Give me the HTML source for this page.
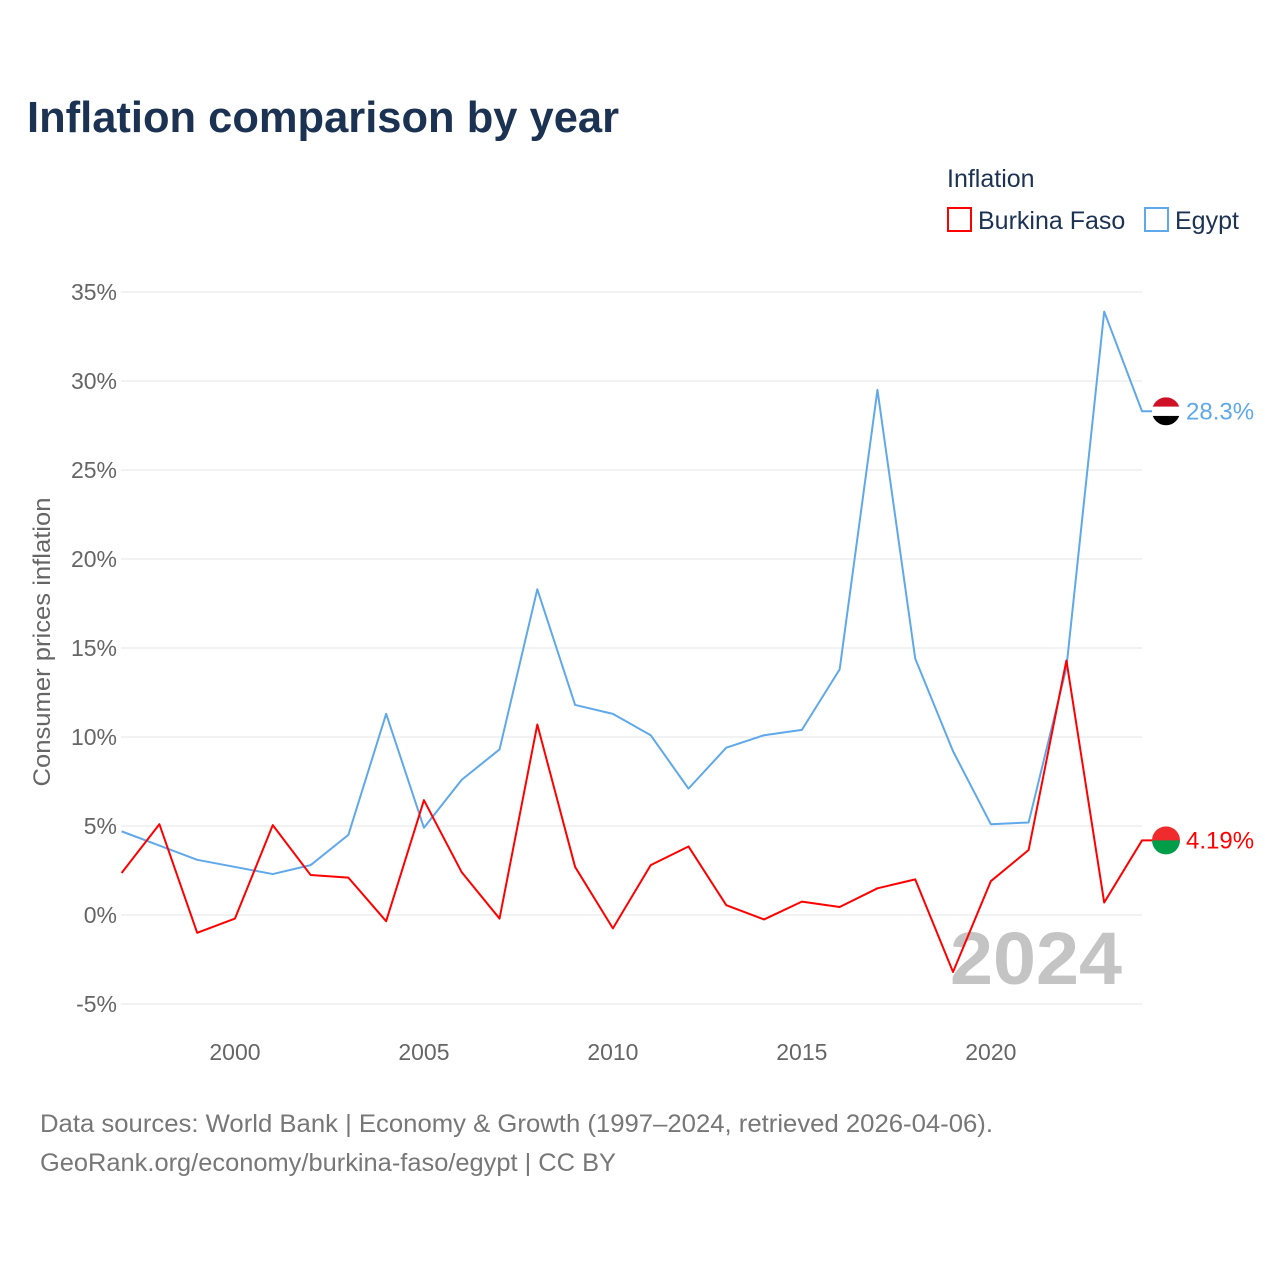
<!DOCTYPE html>
<html><head><meta charset="utf-8"><style>
body{margin:0;background:#fff;font-family:"Liberation Sans",sans-serif;}
svg text{font-family:"Liberation Sans",sans-serif;}
</style></head><body>
<svg id="chart" width="1280" height="1280" xmlns="http://www.w3.org/2000/svg">
<text x="27" y="132" font-size="44" font-weight="bold" fill="#1b3252" textLength="592" lengthAdjust="spacingAndGlyphs">Inflation comparison by year</text>
<text x="947" y="187" font-size="25" fill="#1b3252">Inflation</text>
<g><rect x="948" y="208" width="23" height="23" fill="none" stroke="#f00" stroke-width="2"/><text x="978" y="229" font-size="25" fill="#1b3252">Burkina Faso</text></g>
<g><rect x="1145" y="208" width="23" height="23" fill="none" stroke="#5fa8ea" stroke-width="2"/><text x="1175" y="229" font-size="25" fill="#1b3252">Egypt</text></g>
<g id="grid"></g><g id="yticks"></g><g id="xticks"></g>
<text transform="translate(50,642) rotate(-90)" text-anchor="middle" font-size="24" fill="#666" textLength="289" lengthAdjust="spacingAndGlyphs">Consumer prices inflation</text>
<text x="950" y="984" font-size="74" font-weight="bold" fill="#c4c4c4" textLength="172" lengthAdjust="spacingAndGlyphs">2024</text>
<g id="series"></g>
<text x="40" y="1132" font-size="25" fill="#777" textLength="953" lengthAdjust="spacingAndGlyphs">Data sources: World Bank | Economy &amp; Growth (1997–2024, retrieved 2026-04-06).</text>
<text x="40" y="1171" font-size="25" fill="#777" textLength="576" lengthAdjust="spacingAndGlyphs">GeoRank.org/economy/burkina-faso/egypt | CC BY</text>
</svg>
<script>
const years=[1997,1998,1999,2000,2001,2002,2003,2004,2005,2006,2007,2008,2009,2010,2011,2012,2013,2014,2015,2016,2017,2018,2019,2020,2021,2022,2023,2024];
const burkina=[2.36,5.1,-1.0,-0.2,5.05,2.25,2.1,-0.35,6.45,2.4,-0.2,10.7,2.7,-0.75,2.8,3.85,0.55,-0.25,0.75,0.45,1.5,2.0,-3.2,1.9,3.65,14.3,0.7,4.19];
const egypt=[4.7,3.9,3.1,2.7,2.3,2.8,4.5,11.3,4.9,7.6,9.3,18.3,11.8,11.3,10.1,7.1,9.4,10.1,10.4,13.8,29.5,14.4,9.2,5.1,5.2,13.9,33.9,28.3];
const yTicks=[-5,0,5,10,15,20,25,30,35];
const xTicks=[2000,2005,2010,2015,2020];
const NS="http://www.w3.org/2000/svg";
const x=v=>121.6+(v-1997)*(1142-121.6)/27;
const y=v=>915-v*17.8;
function mk(t,a,p){const e=document.createElementNS(NS,t);for(const k in a)e.setAttribute(k,a[k]);document.getElementById(p).appendChild(e);return e;}
yTicks.forEach(t=>{
 const l=mk('line',{x1:121,x2:1142,y1:y(t),y2:y(t),stroke:'#e6e6e6','stroke-width':1},'grid');
 
 
 const tx=mk('text',{x:117,y:y(t)+8,'text-anchor':'end','font-size':23,fill:'#666'},'yticks');
 tx.textContent=t+'%';
 
 
});
xTicks.forEach(t=>{
 const tx=mk('text',{x:x(t),y:1060,'text-anchor':'middle','font-size':23,fill:'#666'},'xticks');
 tx.textContent=t;
 
 
});
function series(vals,color,name,label,flag){
 const pts=vals.map((v,i)=>x(years[i])+','+y(v)).join(' ');
 const last=vals[vals.length-1];
 const pl=mk('polyline',{points:pts+' '+1152+','+y(last),fill:'none',stroke:color,'stroke-width':2,'stroke-linejoin':'round'},'series');
 
 
 const g=mk('g',{},'series');
 
 
 const cy=y(last);
 flag.forEach((c,i)=>{const r=document.createElementNS(NS,'rect');r.setAttribute('x',1152);r.setAttribute('y',cy-14+i*28/flag.length);r.setAttribute('width',28);r.setAttribute('height',28/flag.length+0.5);r.setAttribute('fill',c);r.setAttribute('clip-path','url(#c'+name+')');g.appendChild(r);});
 const cp=mk('clipPath',{id:'c'+name},'series');const ci=document.createElementNS(NS,'circle');ci.setAttribute('cx',1166);ci.setAttribute('cy',cy);ci.setAttribute('r',14);cp.appendChild(ci);
 const t=mk('text',{x:1186,y:cy+8,'font-size':24,fill:color},'series');
 t.textContent=label;
 
 
}
series(egypt,'#5fa8ea','egypt','28.3%',['#ce1126','#ffffff','#000000']);
series(burkina,'#f00','burkina-faso','4.19%',['#ef2b2d','#009e49']);
</script>
</body></html>
